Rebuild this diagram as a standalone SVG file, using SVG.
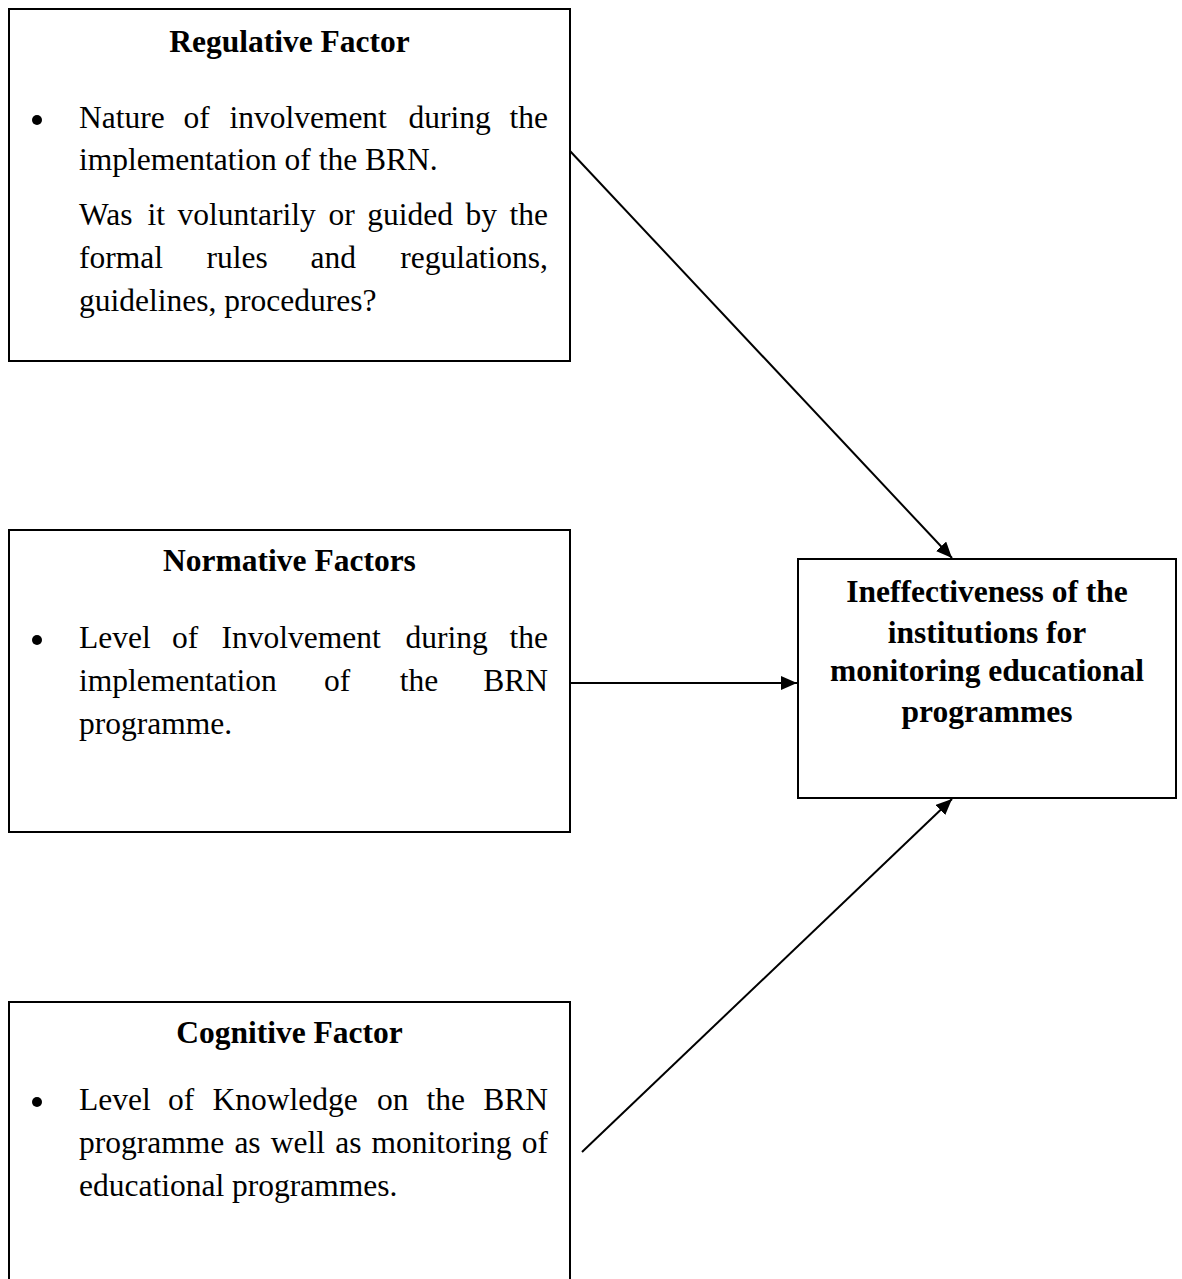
<svg xmlns="http://www.w3.org/2000/svg" width="1182" height="1279" viewBox="0 0 1182 1279">
<style>
.box{fill:#fff;stroke:#000;stroke-width:2}
.t{font-family:"Liberation Serif","Times New Roman",serif;font-size:31.5px;fill:#000}
.b{font-weight:bold}
.c{text-anchor:middle}
.e{text-anchor:end}
.conn{stroke:#000;stroke-width:2;fill:none}
</style>
<defs>
<marker id="arr" markerUnits="userSpaceOnUse" markerWidth="18" markerHeight="16" refX="16" refY="7" orient="auto">
<path d="M0,0 L16,7 L0,14 z" fill="#000"/>
</marker>
</defs>
<rect width="1182" height="1279" fill="#fff"/>
<g id="connectors">
<line class="conn" x1="570" y1="151" x2="952" y2="558" marker-end="url(#arr)"/>
<line class="conn" x1="571" y1="683" x2="797" y2="683" marker-end="url(#arr)"/>
<line class="conn" x1="582" y1="1152" x2="952" y2="799" marker-end="url(#arr)"/>
</g>
<g id="regulative">
<rect class="box" x="9" y="9" width="561" height="352"/>
<text class="t b c" x="289.5" y="52">Regulative Factor</text>
<circle cx="37" cy="120" r="5" fill="#000"/>
<text class="t" y="128"><tspan x="79">Nature</tspan><tspan x="183.5">of</tspan><tspan x="229.4">involvement</tspan><tspan x="408.5">during</tspan></text>
<text class="t e" x="548" y="128">the</text>
<text class="t" x="79" y="170">implementation of the BRN.</text>
<text class="t" y="225"><tspan x="79">Was</tspan><tspan x="147.6">it</tspan><tspan x="177.6">voluntarily</tspan><tspan x="328.5">or</tspan><tspan x="367.2">guided</tspan><tspan x="465.5">by</tspan></text>
<text class="t e" x="548" y="225">the</text>
<text class="t" y="268"><tspan x="79">formal</tspan><tspan x="206.5">rules</tspan><tspan x="310.6">and</tspan></text>
<text class="t e" x="548" y="268">regulations,</text>
<text class="t" x="79" y="311">guidelines, procedures?</text>
</g>
<g id="normative">
<rect class="box" x="9" y="530" width="561" height="302"/>
<text class="t b c" x="289.5" y="571">Normative Factors</text>
<circle cx="37" cy="640" r="5" fill="#000"/>
<text class="t" y="648"><tspan x="79">Level</tspan><tspan x="172">of</tspan><tspan x="221.6">Involvement</tspan><tspan x="405.4">during</tspan></text>
<text class="t e" x="548" y="648">the</text>
<text class="t" y="691"><tspan x="79">implementation</tspan><tspan x="324">of</tspan><tspan x="399.7">the</tspan></text>
<text class="t e" x="548" y="691">BRN</text>
<text class="t" x="79" y="734">programme.</text>
</g>
<g id="cognitive">
<rect class="box" x="9" y="1002" width="561" height="300"/>
<text class="t b c" x="289.5" y="1043">Cognitive Factor</text>
<circle cx="37" cy="1102" r="5" fill="#000"/>
<text class="t" y="1110"><tspan x="79">Level</tspan><tspan x="168">of</tspan><tspan x="212.5">Knowledge</tspan><tspan x="377">on</tspan><tspan x="426.5">the</tspan></text>
<text class="t e" x="548" y="1110">BRN</text>
<text class="t" y="1153"><tspan x="79">programme</tspan><tspan x="234.4">as</tspan><tspan x="270.8">well</tspan><tspan x="335.2">as</tspan><tspan x="371.6">monitoring</tspan></text>
<text class="t e" x="548" y="1153">of</text>
<text class="t" x="79" y="1196">educational programmes.</text>
</g>
<g id="outcome">
<rect class="box" x="798" y="559" width="378" height="239"/>
<text class="t b c" x="987" y="602">Ineffectiveness of the</text>
<text class="t b c" x="987" y="643">institutions for</text>
<text class="t b c" x="987" y="681">monitoring educational</text>
<text class="t b c" x="987" y="722">programmes</text>
</g>
</svg>
